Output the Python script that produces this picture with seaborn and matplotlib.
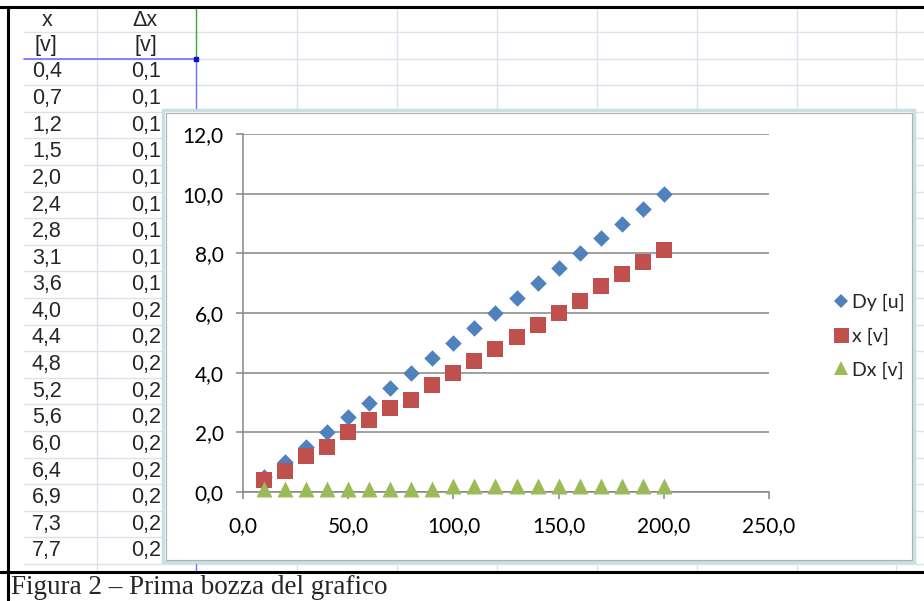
import matplotlib
matplotlib.use("Agg")
import matplotlib.pyplot as plt
import seaborn as sns
import pandas as pd
from matplotlib.lines import Line2D
from matplotlib.patches import Rectangle
from matplotlib.ticker import FuncFormatter, MultipleLocator

# ---- data ----
x_values = [10, 20, 30, 40, 50, 60, 70, 80, 90, 100,
            110, 120, 130, 140, 150, 160, 170, 180, 190, 200]
dy_values = [0.5, 1.0, 1.5, 2.0, 2.5, 3.0, 3.5, 4.0, 4.5, 5.0,
             5.5, 6.0, 6.5, 7.0, 7.5, 8.0, 8.5, 9.0, 9.5, 10.0]
xv_values = [0.4, 0.7, 1.2, 1.5, 2.0, 2.4, 2.8, 3.1, 3.6, 4.0,
             4.4, 4.8, 5.2, 5.6, 6.0, 6.4, 6.9, 7.3, 7.7, 8.1]
dx_values = [0.1, 0.1, 0.1, 0.1, 0.1, 0.1, 0.1, 0.1, 0.1, 0.2,
             0.2, 0.2, 0.2, 0.2, 0.2, 0.2, 0.2, 0.2, 0.2, 0.2]
series_names = ["Dy [u]", "x [v]", "Dx [v]"]
series_colors = ["#4F81BD", "#C0504D", "#9BBB59"]
series_markers = ["D", "s", "^"]
series_sizes = [8.4, 12.0, 11.5]
col_headers = ["x", "\u0394x"]
col_units = ["[v]", "[v]"]
visible_rows = 19  # rows of the sheet table fully visible above the caption
caption = "Figura 2 \u2013 Prima bozza del grafico"

sns.set_style("white")
plt.rcParams["font.family"] = ["Lato", "DejaVu Sans"]

W, H = 924, 601
fig = plt.figure(figsize=(W / 100, H / 100), dpi=100)

# ---- spreadsheet background ----
bg = fig.add_axes([0, 0, 1, 1])
bg.set_xlim(0, W)
bg.set_ylim(H, 0)
bg.axis("off")
grid_c = "#dde1ea"
row_h = 26.6
row_lines = [32 + row_h * k for k in range(21)]
for yl in row_lines:
    if yl < 572:
        bg.plot([24, W], [yl, yl], color=grid_c, lw=1, zorder=1)
for xc in [97, 297, 397, 497, 597, 697, 797, 896]:
    bg.plot([xc, xc], [7, 572], color=grid_c, lw=1, zorder=1)
bg.plot([196, 196], [7, 58.6], color="#3aa53a", lw=1, zorder=2)
bg.plot([196, 196], [58.6, 572], color="#7070ff", lw=1, zorder=2)
bg.plot([24, 196], [58.6, 58.6], color="#7070ff", lw=1.2, zorder=2)
bg.add_patch(Rectangle((194, 56.6), 4, 4, color="#1010d0", zorder=3))

sheet_font = ["Liberation Sans", "DejaVu Sans"]
fs_sheet = 15.5
bg.text(47, 21, col_headers[0], ha="center", va="center", fontsize=fs_sheet, family=sheet_font, zorder=3)
bg.text(145, 21, col_headers[1], ha="center", va="center", fontsize=fs_sheet, family=sheet_font, zorder=3)
bg.text(46, 46, col_units[0], ha="center", va="center", fontsize=fs_sheet, family=sheet_font, zorder=3)
bg.text(146, 46, col_units[1], ha="center", va="center", fontsize=fs_sheet, family=sheet_font, zorder=3)
for i, (a, b) in enumerate(zip(xv_values[:visible_rows], dx_values[:visible_rows])):
    yc = 72 + row_h * i
    bg.text(32, yc, f"{a:.1f}".replace(".", ","), ha="left", va="center",
            fontsize=fs_sheet, family=sheet_font, zorder=3)
    bg.text(131, yc, f"{b:.1f}".replace(".", ","), ha="left", va="center",
            fontsize=fs_sheet, family=sheet_font, zorder=3)

# caption area
bg.add_patch(Rectangle((0, 572), W, H - 572, color="white", zorder=5))
bg.plot([0, W], [7, 7], color="black", lw=2.2, zorder=6)
bg.plot([0, W], [572, 572], color="black", lw=2.2, zorder=6)
bg.plot([8, 8], [7, H], color="black", lw=2.2, zorder=6)
bg.text(11, 588, caption, ha="left", va="center", fontsize=19.5,
        family=["Liberation Serif", "DejaVu Serif"], zorder=7)

# chart frame
bg.add_patch(Rectangle((163, 110), 914 - 163, 562 - 110, facecolor="white",
                       edgecolor="#c9dfe2", lw=2.5, zorder=8))
bg.add_patch(Rectangle((165.5, 112.5), 914 - 168, 562 - 115, facecolor="none",
                       edgecolor="#a9b3b5", lw=0.8, zorder=9))

# ---- chart ----
ax = fig.add_axes([243 / W, 109 / H, 526 / W, 358 / H])
ax.set_facecolor("none")
series_vals = [dy_values, xv_values, dx_values]
for name, vals, col, mk, ms in zip(series_names, series_vals, series_colors,
                                    series_markers, series_sizes):
    df = pd.DataFrame({"x": x_values, "y": vals})
    sns.scatterplot(data=df, x="x", y="y", ax=ax, color=col, marker=mk,
                    s=ms ** 2, linewidth=0, zorder=5, clip_on=False)

ax.set_xlim(0, 250)
ax.set_ylim(0, 12)
ax.xaxis.set_major_locator(MultipleLocator(50))
ax.yaxis.set_major_locator(MultipleLocator(2))
fmt = FuncFormatter(lambda v, p: f"{v:.1f}".replace(".", ","))
ax.xaxis.set_major_formatter(fmt)
ax.yaxis.set_major_formatter(fmt)
ax.set_xlabel("")
ax.set_ylabel("")
ax.grid(axis="y", color="#868686", lw=1.1)
ax.grid(axis="x", visible=False)
for s in ["top", "right"]:
    ax.spines[s].set_visible(False)
for s in ["left", "bottom"]:
    ax.spines[s].set_color("#868686")
    ax.spines[s].set_linewidth(1.1)
ax.tick_params(axis="both", which="major", length=5, width=1.1, color="#868686",
               labelsize=15, labelcolor="black")
ax.tick_params(axis="x", pad=12, bottom=True, direction="out")
ax.tick_params(axis="y", pad=9, left=True, direction="out")
ax.set_axisbelow(True)

handles = [Line2D([], [], ls="none", marker=mk, color=col, markersize=ms * 0.9,
                  markeredgewidth=0)
           for col, mk, ms in zip(series_colors, series_markers, series_sizes)]
fig.legend(handles, series_names, loc="center left",
           bbox_to_anchor=(823 / W, 1 - 336 / H), frameon=False, fontsize=14,
           handlelength=0.8, handletextpad=0.2, labelspacing=0.85, borderpad=0)

fig.savefig("out.png", dpi=100)
